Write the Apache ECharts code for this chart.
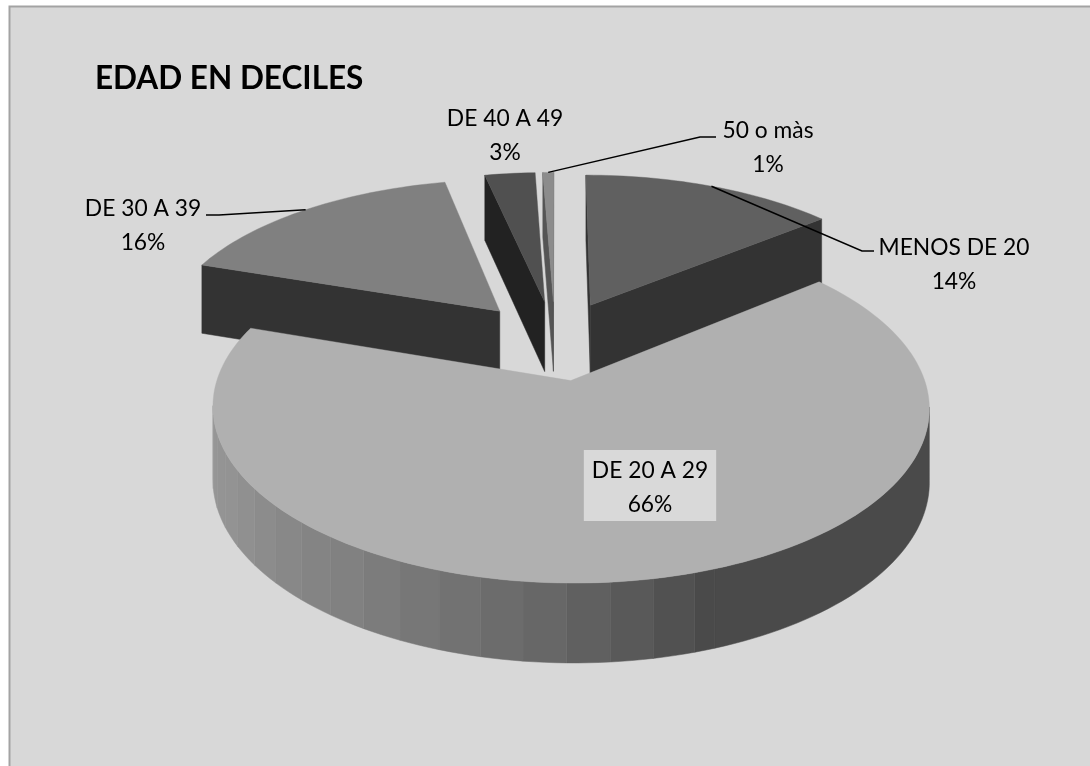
<!DOCTYPE html>
<html><head><meta charset="utf-8">
<style>html,body{margin:0;padding:0;background:#fff}#c{width:1090px;height:766px}</style>
<script src="https://cdn.jsdelivr.net/npm/echarts@6/dist/echarts.min.js"></script>
</head><body><div id="c"></div>
<script>
// ---- data ----
const categories = ['MENOS DE 20', 'DE 20 A 29', 'DE 30 A 39', 'DE 40 A 49', '50 o màs'];
const shares = [14.1, 66.1, 16.4, 2.8, 0.6];
const chartTitle = 'EDAD EN DECILES';

// ---- styles ----
const topColors  = ['#606060', '#b0b0b0', '#808080', '#505050', '#8c8c8c'];
const sideColors = ['#333333', '#4a4a4a', '#333333', '#222222', '#555555'];
const drawOrder  = [1, 5, 2, 3, 4];
const FONT = '22.8px Lato, "Open Sans", sans-serif';
// label centre (x, first line y), optional leader elbow points
const labelPos = [[954, 247], [650, 471], [143, 208], [505, 118], [768, 130]];
const leaderElbows = [[[862, 251], [874, 251]], null, [[219, 215], [206, 215]], null, [[700, 137], [716, 137]]];
// rim shading of the large slice: angle stops and grey levels
const rimAngles = [159, 182, 209, 240, 270];
const rimGreys  = [0x4a, 0x66, 0x7e, 0x92, 0x9a];

// ---- 3D projection of the exploded pie ----
const P = { cx: 555, cy: 340, rx: 341, ry: 159, k: 0.1485, depthA: 32, depthB: 39, explode: 0.25 };
function project(mx, my) {
  const w = 1 - P.k * my;
  return { x: P.cx + P.rx * mx / w, y: P.cy + P.ry * my / w, d: P.depthA + P.depthB / w };
}
function polar(deg, r) {
  const a = deg * Math.PI / 180;
  return [r * Math.sin(a), -r * Math.cos(a)];
}
const total = shares.reduce((s, v) => s + v, 0);
const BAND = 6;
function rimBand(deg) {
  return deg < rimAngles[0] ? 0 : Math.floor(deg / BAND) * BAND;
}
function rimGray(band) {
  const d = band + BAND / 2;
  let g = rimGreys[0];
  if (d >= rimAngles[rimAngles.length - 1]) g = rimGreys[rimGreys.length - 1];
  else for (let j = 0; j + 1 < rimAngles.length; j++) {
    if (d >= rimAngles[j] && d < rimAngles[j + 1]) {
      g = rimGreys[j] + (rimGreys[j + 1] - rimGreys[j]) * (d - rimAngles[j]) / (rimAngles[j + 1] - rimAngles[j]);
    }
  }
  g = Math.round(g);
  return 'rgb(' + g + ',' + g + ',' + g + ')';
}

function renderItem(params, api) {
  const i = params.dataIndex;
  const value = api.value(0);
  let before = 0;
  for (let j = 0; j < i; j++) before += shares[j];
  const a0 = before / total * 360, a1 = (before + value) / total * 360, mid = (a0 + a1) / 2;
  const [ox, oy] = polar(mid, P.explode);
  const at = (deg, r) => { const [x, y] = polar(deg, r); return project(ox + x, oy + y); };

  const apex = at(mid, 0);
  const arc = [];
  const n = Math.max(2, Math.ceil((a1 - a0) / 1.5));
  for (let s = 0; s <= n; s++) { const d = a0 + (a1 - a0) * s / n; arc.push({ p: at(d, 1), deg: d }); }

  const z = drawOrder[i];
  const children = [];
  const wall = (list, fill) => {
    const top = list.map(p => [p.x, p.y]);
    const bottom = list.slice().reverse().map(p => [p.x, p.y + p.d]);
    children.push({ type: 'polygon', z2: z, silent: true,
      shape: { points: top.concat(bottom) },
      style: { fill, stroke: fill, lineWidth: 0.5, lineJoin: 'round' } });
  };
  // only walls whose edge runs right-to-left on the clockwise outline face the viewer
  if (arc[0].p.x < apex.x) wall([apex, arc[0].p], sideColors[i]);
  if (apex.x < arc[n].p.x) wall([arc[n].p, apex], sideColors[i]);
  const bands = {};
  for (let s = 0; s < n; s++) {
    if (arc[s + 1].p.x >= arc[s].p.x) continue;
    const key = value > 50 ? rimBand(arc[s].deg) : 0;
    if (!bands[key]) bands[key] = [arc[s].p];
    bands[key].push(arc[s + 1].p);
  }
  Object.keys(bands).forEach(key => {
    wall(bands[key], value > 50 ? rimGray(+key) : sideColors[i]);
  });
  const pts = [[apex.x, apex.y]].concat(arc.map(a => [a.p.x, a.p.y]));
  children.push({ type: 'polygon', z2: z, silent: true, shape: { points: pts },
    style: { fill: topColors[i], stroke: topColors[i], lineWidth: 0.4, lineJoin: 'round' } });

  if (leaderElbows[i]) {
    const s = at(mid, 1);
    children.push({ type: 'polyline', z2: 50, silent: true,
      shape: { points: [[s.x, s.y]].concat(leaderElbows[i]) },
      style: { fill: null, stroke: '#000', lineWidth: 1.5 } });
  }
  const lab = labelPos[i];
  const filled = value > 50;
  children.push({ type: 'text', z2: 60, silent: true, x: lab[0], y: lab[1] - (filled ? 21 : 16),
    style: { text: categories[i] + '\n' + Math.round(value) + '%', font: FONT, lineHeight: 33.5, fill: '#000',
      align: 'center', verticalAlign: 'top',
      backgroundColor: filled ? '#d9d9d9' : 'transparent',
      padding: filled ? [4, 8, 0, 8] : 0 } });
  return { type: 'group', children };
}

const chart = echarts.init(document.getElementById('c'), null, { renderer: 'canvas' });
chart.setOption({
  animation: false,
  backgroundColor: '#ffffff',
  title: { text: chartTitle, left: 90, top: 58,
    textStyle: { fontFamily: 'Lato, "Open Sans", sans-serif', fontWeight: 'bold', fontSize: 31.5, color: '#000' } },
  graphic: [{ type: 'rect', z: -1, silent: true, shape: { x: 9.5, y: 6.5, width: 1100, height: 780 },
    style: { fill: '#d8d8d8', stroke: '#a3a3a3', lineWidth: 2 } }],
  series: [{ type: 'custom', coordinateSystem: 'none', renderItem, clip: false,
    data: shares.map((v, i) => ({ name: categories[i], value: [v] })) }]
});
</script></body></html>
